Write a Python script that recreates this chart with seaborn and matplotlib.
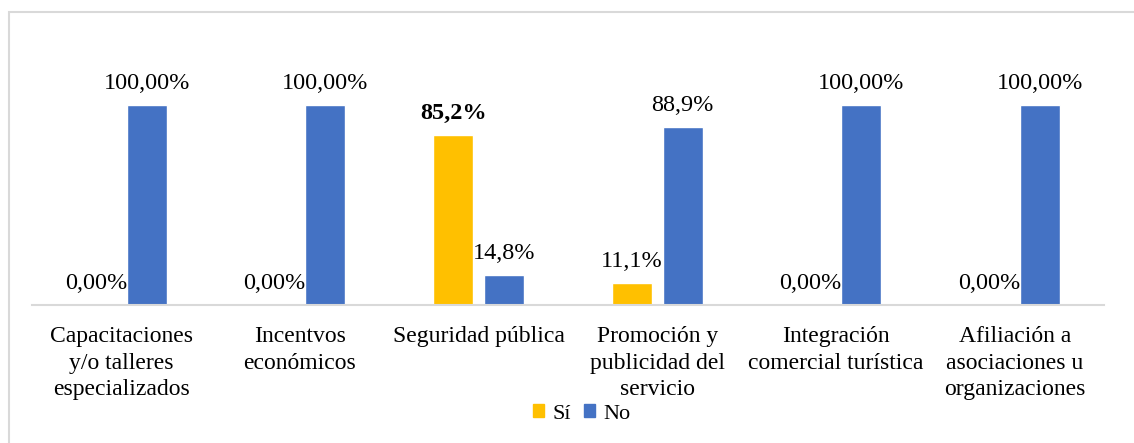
import pandas as pd
import matplotlib.pyplot as plt
import matplotlib.patches as mpatches
import seaborn as sns

# Data
categories = [
    "Capacitaciones\ny/o talleres\nespecializados",
    "Incentvos\neconómicos",
    "Seguridad pública",
    "Promoción y\npublicidad del\nservicio",
    "Integración\ncomercial turística",
    "Afiliación a\nasociaciones u\norganizaciones",
]
si_values = [0, 0, 85.2, 11.1, 0, 0]
no_values = [100, 100, 14.8, 88.9, 100, 100]
si_labels = ["0,00%", "0,00%", "85,2%", "11,1%", "0,00%", "0,00%"]
no_labels = ["100,00%", "100,00%", "14,8%", "88,9%", "100,00%", "100,00%"]
series = ["Sí", "No"]
colors = ["#FFC000", "#4472C4"]

df = pd.DataFrame({
    "Categoria": categories * 2,
    "Respuesta": ["Sí"] * len(categories) + ["No"] * len(categories),
    "Valor": si_values + no_values,
})

sns.set_style("white")
plt.rcParams["font.family"] = ["Liberation Serif", "DejaVu Serif"]
plt.rcParams["text.color"] = "black"
plt.rcParams["xtick.color"] = "black"

fig = plt.figure(figsize=(11.34, 4.43), dpi=100)
W, H = 1134, 443
ax = fig.add_axes([32 / W, 1 - 305 / H, (1104 - 32) / W, 240 / H])

sns.barplot(
    data=df, x="Categoria", y="Valor", hue="Respuesta",
    hue_order=series, palette=colors, width=0.566, gap=0.21,
    saturation=1, ax=ax, legend=False,
)

ax.set_ylim(0, 120)
ax.set_xlim(-0.5, len(categories) - 0.5)
ax.set_xlabel("")
ax.set_ylabel("")
ax.set_yticks([])
ax.tick_params(axis="x", length=0, pad=15, labelsize=17, labelcolor="black")
for lbl in ax.get_xticklabels():
    lbl.set_linespacing(1.36)
for side in ["top", "right", "left"]:
    ax.spines[side].set_visible(False)
ax.spines["bottom"].set_color("#D9D9D9")
ax.spines["bottom"].set_linewidth(1.5)

# Value labels
texts_si = ax.bar_label(ax.containers[0], labels=si_labels, padding=8,
                        fontsize=17.5, color="black")
texts_no = ax.bar_label(ax.containers[1], labels=no_labels, padding=8,
                        fontsize=17.5, color="black")
top_idx = si_values.index(max(si_values))
texts_si[top_idx].set_fontweight("bold")

# Legend
handles = [mpatches.Patch(color=c, label=s) for s, c in zip(series, colors)]
fig.legend(
    handles=handles, loc="center", bbox_to_anchor=(0.513, 1 - 414 / H),
    ncol=2, frameon=False, fontsize=16, handlelength=0.5, handleheight=0.5,
    handletextpad=0.35, columnspacing=0.6, labelcolor="black",
)

# Chart border
fig.patches.append(mpatches.Rectangle(
    (9 / W, -0.1), 1.2, 1 - 12 / H + 0.1, transform=fig.transFigure,
    fill=False, edgecolor="#D9D9D9", linewidth=1.5,
))

plt.savefig("out.png", dpi=100)
plt.close()
